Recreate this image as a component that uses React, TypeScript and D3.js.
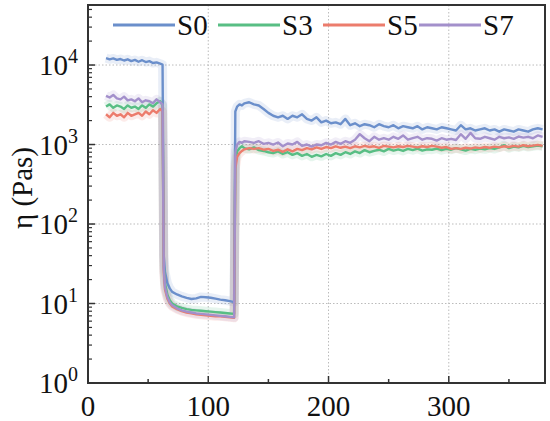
import { scaleLinear, scaleLog, line as d3line, range } from "d3";

const W = 550;
const H = 421;
const M = { top: 5, right: 5, bottom: 38, left: 88 };

const FONT = "Liberation Serif";

// time points (s)
const T = [
  15, 18, 21, 24, 27, 30, 33, 36, 39, 42, 45, 48, 51, 54, 57, 60, 62,
  63, 64, 66, 68, 70, 74, 78, 82, 86, 90, 94, 98, 102, 106, 110, 114, 118, 121.5,
  122.5, 124, 126, 128, 130, 134, 138, 142, 146, 150, 154, 158, 162, 166, 170, 174, 178, 182, 186, 190,
  194, 198, 202, 206, 210, 214, 218, 222, 226, 230, 234, 238, 242, 246, 250, 254, 258, 262, 266, 270,
  274, 278, 282, 286, 290, 294, 298, 302, 306, 310, 314, 318, 322, 326, 330, 334, 338, 342, 346, 350,
  354, 358, 362, 366, 370, 374, 378,
];

const S0 = [
  12200, 11800, 12100, 11600, 11900, 11400, 11800, 11200, 11600, 11000, 11500, 10900, 11200, 10600, 10800, 10400, 10100,
  40, 25, 18, 15.5, 14, 13, 12.3, 11.8, 11.4, 11.6, 12.1, 12, 11.8, 11.5, 11.2, 11, 10.7, 10.4,
  2600, 3000, 3200, 3100, 3300, 3400, 3200, 3100, 2800, 2500, 2300, 2200, 2300, 2100, 2300, 2200, 2400, 2100, 2000, 2200,
  1900, 2000, 1850, 1900, 1800, 2100, 1750, 1850, 1700, 1800, 1750, 1650, 1800, 1700, 1650, 1750, 1600, 1700, 1650, 1600,
  1700, 1550, 1650, 1600, 1550, 1650, 1600, 1550, 1500, 1750, 1550, 1600, 1500, 1550, 1600, 1500, 1550, 1450, 1550, 1500,
  1450, 1550, 1500, 1450, 1550, 1600, 1550,
];

const S3 = [
  3000, 3200, 2900, 3100, 3000, 2800, 3100, 2900, 3000, 2800, 3100, 2900, 3200, 3000, 3300, 3500, 3100,
  30, 18, 13, 11, 10, 9.2, 8.8, 8.5, 8.3, 8.2, 8.1, 8, 7.9, 7.8, 7.7, 7.6, 7.5, 7.4,
  600, 820, 900, 950, 900, 870, 920, 850, 830, 800, 780, 820, 760, 800, 740, 780, 720, 760, 700, 740,
  710, 760, 720, 780, 740, 800, 760, 820, 780, 850, 800, 830, 860, 820, 880, 840, 870, 830, 880, 850,
  890, 840, 870, 860, 890, 850, 880, 860, 900, 870, 840, 880, 860, 890, 870, 900, 880, 920, 980, 900,
  940, 920, 960, 930, 950, 970, 950,
];

const S5 = [
  2400, 2200, 2500, 2300, 2400, 2200, 2500, 2300, 2400, 2500, 2300, 2600, 2400, 2700, 2500, 2800, 2600,
  25, 15, 11.5, 10, 9.2, 8.5, 8, 7.7, 7.5, 7.3, 7.2, 7.1, 7, 6.9, 6.9, 6.8, 6.7, 6.6,
  500, 700, 780, 830, 870, 900, 880, 900, 860, 880, 830, 860, 810, 870, 820, 880, 850, 900, 870, 920,
  880, 930, 900, 950, 910, 940, 900, 950, 920, 960, 930, 950, 910, 960, 940, 920, 950, 930, 960, 940,
  920, 950, 930, 960, 940, 910, 930, 880, 900, 880, 910, 890, 920, 900, 930, 910, 940, 920, 950, 930,
  960, 940, 980, 950, 970, 990, 960,
];

const S7 = [
  4100, 3900, 4200, 3800, 3700, 4000, 3600, 3700, 3500, 3800, 3400, 3600, 3500, 3300, 3700, 3400, 3200,
  28, 16, 12, 10.3, 9.5, 8.7, 8.2, 7.9, 7.7, 7.5, 7.4, 7.3, 7.2, 7.1, 7, 6.9, 6.8, 6.7,
  800, 1000, 1080, 1050, 1100, 1080, 1050, 1100, 1020, 1050, 1000, 1060, 950, 1030, 1000, 1080, 960, 1000, 940, 1000,
  980, 1050, 1000, 1080, 1020, 1100, 1050, 1150, 1350, 1200, 1100, 1250, 1150, 1200, 1150, 1250, 1180, 1300, 1150, 1200,
  1250, 1150, 1200, 1180, 1120, 1200, 1150, 1180, 1140, 1350, 1180, 1400, 1200, 1180, 1250, 1200, 1150, 1250, 1200, 1230,
  1180, 1260, 1220, 1250, 1200, 1300, 1250,
];

const SERIES = [
  { name: "S0", values: S0, color: "#6b8fcb" },
  { name: "S3", values: S3, color: "#58be84" },
  { name: "S5", values: S5, color: "#ec7c6c" },
  { name: "S7", values: S7, color: "#a390cb" },
];

const X_TICKS = [0, 100, 200, 300];
const X_MINOR = [50, 150, 250, 350];
const Y_EXPONENTS = [0, 1, 2, 3, 4];

const txt = { fontFamily: FONT };

export default function App() {
  const innerW = W - M.left - M.right;
  const innerH = H - M.top - M.bottom;

  const x = scaleLinear().domain([0, 380]).range([0, innerW]);
  const y = scaleLog().domain([1, 56900]).range([innerH, 0]);

  const yMinor: number[] = [];
  for (let k = 0; k <= 4; k++) {
    for (const m of range(2, 10)) {
      const v = m * Math.pow(10, k);
      if (v < 56900) yMinor.push(v);
    }
  }

  const path = (vals: number[]) =>
    d3line<number>()
      .x((_, i) => x(T[i]))
      .y((d) => y(d))(vals) ?? "";

  const legendX = [25, 130, 235, 331];

  return (
    <svg width={W} height={H} style={{ position: "absolute", left: 0, top: 0, background: "#fff" }}>
      <defs>
        <clipPath id="plot-clip">
          <rect x={0} y={0} width={innerW} height={innerH} />
        </clipPath>
      </defs>
      <g transform={`translate(${M.left},${M.top})`}>
        {/* grid */}
        {X_TICKS.filter((t) => t > 0).map((t) => (
          <line key={`gx${t}`} x1={x(t)} x2={x(t)} y1={0} y2={innerH} stroke="#bbb" strokeWidth={1} strokeDasharray="1.5,2" />
        ))}
        {Y_EXPONENTS.filter((e) => e > 0).map((e) => (
          <line key={`gy${e}`} x1={0} x2={innerW} y1={y(Math.pow(10, e))} y2={y(Math.pow(10, e))} stroke="#bbb" strokeWidth={1} strokeDasharray="1.5,2" />
        ))}

        {/* bands + lines */}
        <g clipPath="url(#plot-clip)">
          {SERIES.map((s) => (
            <path key={`b${s.name}`} d={path(s.values)} fill="none" stroke={s.color} strokeOpacity={0.15} strokeWidth={9} strokeLinejoin="round" />
          ))}
          {SERIES.map((s) => (
            <path key={`l${s.name}`} d={path(s.values)} fill="none" stroke={s.color} strokeWidth={2.4} strokeLinejoin="round" />
          ))}
        </g>

        {/* frame */}
        <rect x={0} y={0} width={innerW} height={innerH} fill="none" stroke="#333" strokeWidth={2} />

        {/* x ticks */}
        {X_TICKS.map((t) => (
          <g key={`xt${t}`}>
            <line x1={x(t)} x2={x(t)} y1={innerH} y2={innerH - 7} stroke="#333" strokeWidth={1.5} />
            <text x={x(t)} y={innerH + 33} textAnchor="middle" fontSize={29} fill="#111" style={txt}>
              {t}
            </text>
          </g>
        ))}
        {X_MINOR.map((t) => (
          <line key={`xm${t}`} x1={x(t)} x2={x(t)} y1={innerH} y2={innerH - 4} stroke="#333" strokeWidth={1.5} />
        ))}

        {/* y ticks */}
        {Y_EXPONENTS.map((e) => {
          const yy = y(Math.pow(10, e));
          return (
            <g key={`yt${e}`}>
              <line x1={0} x2={7} y1={yy} y2={yy} stroke="#333" strokeWidth={1.5} />
              <text x={-20} y={yy + 10} textAnchor="end" fontSize={29} fill="#111" style={txt}>
                10
              </text>
              <text x={-20} y={yy - 2} textAnchor="start" fontSize={20} fill="#111" style={txt}>
                {e}
              </text>
            </g>
          );
        })}
        {yMinor.map((v) => (
          <line key={`ym${v}`} x1={0} x2={4} y1={y(v)} y2={y(v)} stroke="#333" strokeWidth={1.2} />
        ))}

        {/* legend */}
        {SERIES.map((s, i) => (
          <g key={`lg${s.name}`} transform={`translate(${legendX[i]},20)`}>
            <line x1={0} x2={62} y1={0} y2={0} stroke={s.color} strokeWidth={3} />
            <text x={64} y={10} fontSize={29} fill="#111" style={txt}>
              {s.name}
            </text>
          </g>
        ))}
      </g>

      {/* y label */}
      <text transform="translate(32,188) rotate(-90)" textAnchor="middle" fontSize={29} fill="#111" style={txt}>
        η (Pas)
      </text>
    </svg>
  );
}
